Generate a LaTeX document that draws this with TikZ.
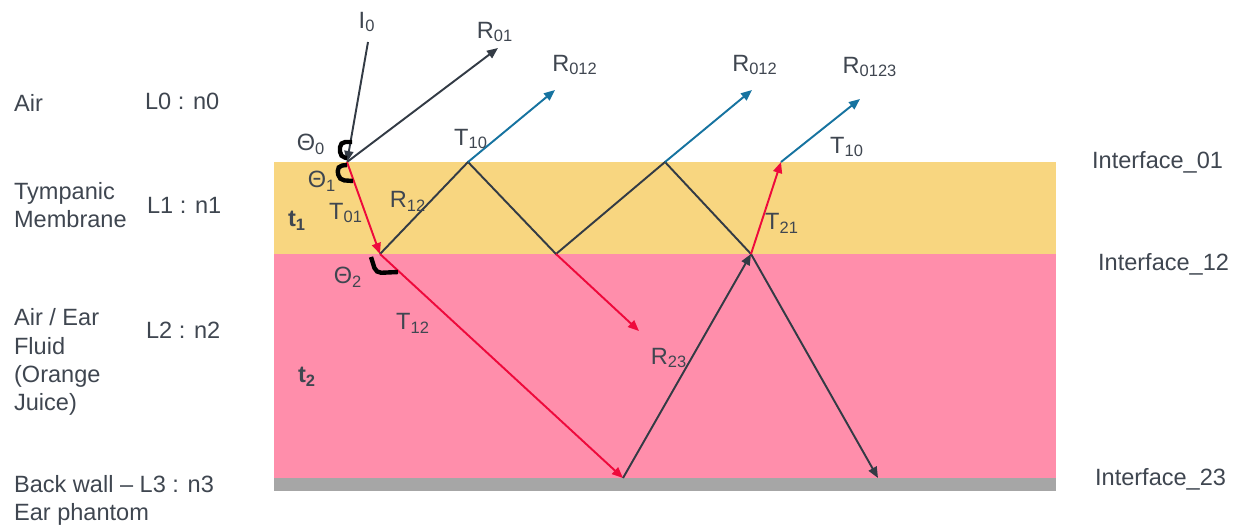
\documentclass[tikz,border=0pt]{standalone}
\usepackage{fontspec}
\setmainfont{Liberation Sans}
\usepackage{xcolor}
\usetikzlibrary{arrows.meta}
\definecolor{layeryellow}{HTML}{F8D680}
\definecolor{layerpink}{HTML}{FF8EAB}
\definecolor{wallgray}{HTML}{A6A6A6}
\definecolor{raydark}{HTML}{333B45}
\definecolor{rayred}{HTML}{EE0A3C}
\definecolor{rayblue}{HTML}{1673A0}
\definecolor{txtgray}{HTML}{3F4650}

\begin{document}
\begin{tikzpicture}[
      x=0.02cm, y=-0.02cm,
      lbl/.style={font=\fontsize{13.4}{16}\selectfont, text=txtgray, inner sep=1pt},
      side/.style={lbl, anchor=west, align=left},
      seg/.style={line width=1.1pt, raydark},
      ray/.style={seg, -{Triangle[length=2.2mm,width=1.8mm]}},
      redray/.style={ray, rayred},
      blueray/.style={ray, rayblue},
      angmark/.style={line width=2.5pt, black, rounded corners=3pt}
    ]
      \useasboundingbox (0,0) rectangle (1241,529);
      % layers
      \fill[layeryellow] (274,162) rectangle (1056,254);
      \fill[layerpink] (274,254) rectangle (1056,478);
      \fill[wallgray] (274,478) rectangle (1056,491);

      % hit points
      \coordinate (A) at (347,162);
      \coordinate (B) at (380,254);
      \coordinate (C) at (468,162);
      \coordinate (D) at (556,254);
      \coordinate (E) at (665,162);
      \coordinate (F) at (751,254);
      \coordinate (G) at (623,478);
      \coordinate (H) at (878,478);
      \coordinate (K) at (781,162);
      \coordinate (i0s) at (368,42);
      \coordinate (r01e) at (498,48);
      \coordinate (cout) at (555,90);
      \coordinate (eout) at (752,90);
      \coordinate (kout) at (860,99);
      \coordinate (dout) at (639,331);

      \draw[ray] (i0s) -- (A);
      \draw[ray] (A) -- (r01e);
      \draw[redray] (A) -- (B);
      \draw[seg] (B) -- (C) -- (D) -- (E) -- (F);
      \draw[blueray] (C) -- (cout);
      \draw[blueray] (E) -- (eout);
      \draw[redray] (D) -- (dout);
      \draw[redray] (B) -- (G);
      \draw[ray] (G) -- (F);
      \draw[ray] (F) -- (H);
      \draw[redray] (F) -- (K);
      \draw[blueray] (K) -- (kout);

      % angle marks
      \draw[angmark] (352,142) -- (340,142) -- (340,157) -- (347,158);
      \draw[angmark] (347,165) -- (337,166) -- (339,180) -- (353,181);
      \draw[angmark] (371,257) -- (376,273) -- (398,272);

      \node[lbl] (i0) at (367,22) {I\textsubscript{0}};
      \node[lbl] (r01) at (495,32) {R\textsubscript{01}};
      \node[lbl] (r012a) at (575,65) {R\textsubscript{012}};
      \node[lbl] (r012b) at (755,65) {R\textsubscript{012}};
      \node[lbl] (r0123) at (870,67) {R\textsubscript{0123}};
      \node[lbl] (t10a) at (471,139) {T\textsubscript{10}};
      \node[lbl] (t10b) at (847,147) {T\textsubscript{10}};
      \node[lbl] (th0) at (311,144) {Θ\textsubscript{0}};
      \node[lbl] (th1) at (322,181) {Θ\textsubscript{1}};
      \node[lbl] (t01) at (346,213) {T\textsubscript{01}};
      \node[lbl] (r12) at (408,201) {R\textsubscript{12}};
      \node[lbl] (t1) at (297,221) {\textbf{t\textsubscript{1}}};
      \node[lbl] (th2) at (348,277) {Θ\textsubscript{2}};
      \node[lbl] (t12) at (413,323) {T\textsubscript{12}};
      \node[lbl] (t2) at (307,377) {\textbf{t\textsubscript{2}}};
      \node[lbl] (r23) at (669,358) {R\textsubscript{23}};
      \node[lbl] (t21) at (782,223) {T\textsubscript{21}};

      % left side
      \node[side] (air) at (12,103) {Air};
      \node[side] (l0) at (143,101) {L0 : n0};
      \node[side] (tymp) at (12,205) {Tympanic\\Membrane};
      \node[side] (l1) at (145,205) {L1 : n1};
      \node[side] (fluid) at (12,362) {Air / Ear\\Fluid\\(Orange\\Juice)};
      \node[side] (l2) at (144,330) {L2 : n2};
      \node[side] (wall) at (12,500) {Back wall – L3 : n3\\Ear phantom};

      % right side
      \node[side] (if01) at (1090,162) {Interface\_01};
      \node[side] (if12) at (1096,264) {Interface\_12};
      \node[side] (if23) at (1093,479) {Interface\_23};
    \end{tikzpicture}
\end{document}
